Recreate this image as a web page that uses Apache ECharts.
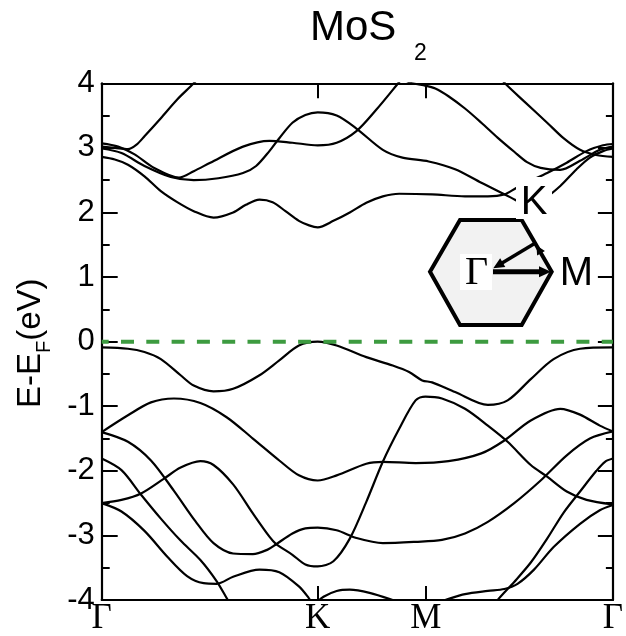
<!DOCTYPE html>
<html>
<head>
<meta charset="utf-8">
<script src="https://cdn.jsdelivr.net/npm/echarts@6/dist/echarts.min.js"></script>
<style>
  html, body { margin: 0; padding: 0; background: #fff; }
  #chart { width: 626px; height: 636px; }
</style>
</head>
<body>
<div id="chart"></div>
<script>
// High-symmetry points along the Γ–K–M–Γ path (path length in units of 2π/a)
const K_PT = 4 / 3;
const M_PT = 2;
const G_END = 4 / 3 + 2 / 3 + 2 / Math.sqrt(3);
const pathTicks = [0, K_PT, M_PT, G_END];
const pathLabels = ['Γ', 'K', 'M', 'Γ'];
const innerTicks = [K_PT, M_PT];

// Conduction bands: [k, E - E_F (eV)]
const cb1 = [[0,2.86],[0.081,2.82],[0.162,2.74],[0.264,2.56],[0.365,2.33],[0.466,2.16],[0.568,2.02],[0.690,1.92],[0.811,2.00],[0.890,2.12],[0.974,2.20],[1.055,2.16],[1.134,2.02],[1.217,1.87],[1.280,1.80],[1.333,1.77],[1.430,1.87],[1.531,2.00],[1.633,2.15],[1.735,2.25],[1.836,2.29],[2.039,2.28],[2.242,2.25],[2.383,2.25],[2.485,2.28],[2.558,2.38],[2.637,2.48],[2.749,2.61],[2.870,2.77],[2.992,2.95],[3.094,3.04],[3.155,3.06]];
const cb2 = [[0,2.99],[0.122,2.92],[0.264,2.72],[0.426,2.55],[0.568,2.50],[0.720,2.53],[0.872,2.61],[0.953,2.72],[1.035,2.95],[1.096,3.15],[1.177,3.39],[1.257,3.51],[1.333,3.55],[1.450,3.50],[1.572,3.30],[1.735,2.97],[1.856,2.85],[2.018,2.79],[2.181,2.67],[2.343,2.46],[2.526,2.23],[2.625,2.12],[2.739,2.23],[2.830,2.41],[2.931,2.67],[3.013,2.85],[3.094,2.95],[3.155,2.99]];
const cb3 = [[0,3.07],[0.101,3.02],[0.203,2.90],[0.324,2.69],[0.477,2.54],[0.568,2.64],[0.670,2.77],[0.872,3.02],[1.035,3.11],[1.177,3.08],[1.333,3.04],[1.450,3.08],[1.572,3.26],[1.694,3.59],[1.826,3.99],[1.877,4.15]];
const cb4 = [[0,3.02],[0.081,3.00],[0.162,2.98],[0.215,3.05],[0.264,3.18],[0.365,3.46],[0.466,3.75],[0.568,4.00],[0.629,4.17]];
const cb5 = [[1.846,4.08],[1.917,4.00],[1.986,3.97],[2.059,3.92],[2.140,3.80],[2.242,3.61],[2.343,3.39],[2.443,3.16],[2.546,2.94],[2.625,2.78],[2.709,2.69],[2.830,2.66],[2.952,2.80],[3.074,2.97],[3.155,3.02]];
const cb6 = [[2.455,4.10],[2.496,3.98],[2.607,3.72],[2.749,3.39],[2.850,3.15],[2.952,2.97],[3.051,2.89],[3.155,2.86]];

// Valence bands
const vb1 = [[0,-0.09],[0.162,-0.11],[0.264,-0.16],[0.365,-0.27],[0.487,-0.52],[0.568,-0.68],[0.690,-0.77],[0.811,-0.73],[0.974,-0.52],[1.096,-0.29],[1.217,-0.06],[1.333,0.00],[1.450,-0.06],[1.633,-0.24],[1.796,-0.37],[1.897,-0.47],[1.978,-0.60],[2.039,-0.63],[2.181,-0.78],[2.383,-0.98],[2.505,-0.91],[2.648,-0.58],[2.789,-0.27],[2.952,-0.11],[3.155,-0.09]];
const vb2 = [[0,-1.40],[0.162,-1.14],[0.304,-0.94],[0.446,-0.88],[0.609,-0.95],[0.771,-1.17],[0.933,-1.50],[1.096,-1.84],[1.217,-2.07],[1.333,-2.15],[1.450,-2.07],[1.633,-1.89],[1.735,-1.86],[1.937,-1.88],[2.140,-1.85],[2.343,-1.73],[2.485,-1.53],[2.648,-1.22],[2.830,-1.04],[2.952,-1.13],[3.074,-1.30],[3.155,-1.39]];
const vb3 = [[0,-1.40],[0.162,-1.55],[0.304,-1.84],[0.446,-2.31],[0.578,-2.78],[0.690,-3.12],[0.811,-3.28],[0.933,-3.29],[1.024,-3.22],[1.075,-3.14],[1.177,-2.97],[1.257,-2.89],[1.333,-2.88],[1.450,-2.92],[1.572,-3.04],[1.735,-3.12],[1.937,-3.10],[2.100,-3.07],[2.242,-2.97],[2.383,-2.79],[2.546,-2.50],[2.709,-2.15],[2.870,-1.76],[3.013,-1.50],[3.155,-1.39]];
const vb4 = [[0,-2.50],[0.122,-2.45],[0.243,-2.35],[0.385,-2.12],[0.487,-1.95],[0.609,-1.85],[0.690,-1.91],[0.811,-2.21],[0.933,-2.66],[1.035,-3.02],[1.075,-3.13],[1.177,-3.30],[1.257,-3.45],[1.333,-3.48],[1.430,-3.40],[1.531,-3.05],[1.633,-2.48],[1.735,-1.86],[1.836,-1.35],[1.937,-0.91],[1.998,-0.85],[2.100,-0.88],[2.242,-1.04],[2.383,-1.30],[2.505,-1.55],[2.648,-1.91],[2.749,-2.09],[2.870,-2.32],[2.992,-2.45],[3.155,-2.52]];
const vb5 = [[0,-1.81],[0.122,-1.99],[0.243,-2.37],[0.365,-2.74],[0.487,-3.08],[0.609,-3.38],[0.710,-3.71],[0.771,-3.97],[0.805,-4.12]];
const vb6 = [[0,-2.50],[0.122,-2.63],[0.264,-2.93],[0.405,-3.33],[0.527,-3.63],[0.629,-3.74],[0.710,-3.75],[0.811,-3.64],[0.974,-3.53],[1.096,-3.57],[1.217,-3.79],[1.278,-3.97],[1.298,-4.05]];
const vb7 = [[1.317,-4.06],[1.369,-3.95],[1.450,-3.86],[1.531,-3.84],[1.653,-3.89],[1.796,-4.00],[1.846,-4.05]];
const vb8 = [[2.059,-4.05],[2.120,-4.00],[2.242,-3.91],[2.383,-3.86],[2.485,-3.83],[2.566,-3.75],[2.668,-3.53],[2.789,-3.18],[2.952,-2.82],[3.074,-2.61],[3.155,-2.53]];
const vb9 = [[2.424,-4.10],[2.444,-4.00],[2.546,-3.72],[2.648,-3.42],[2.749,-3.05],[2.850,-2.65],[2.952,-2.32],[3.053,-2.00],[3.106,-1.86],[3.155,-1.81]];

// Fermi level reference
const fermiLevel = [[0, 0], [G_END, 0]];

const bands = [cb1, cb2, cb3, cb4, cb5, cb6, vb1, vb2, vb3, vb4, vb5, vb6, vb7, vb8, vb9];

const chart = echarts.init(document.getElementById('chart'), null, { renderer: 'canvas' });

const SANS = '"Liberation Sans", Arial, sans-serif';
const SERIF = '"Liberation Serif", "Times New Roman", serif';

const bandSeries = bands.map((pts) => ({
  type: 'line',
  data: pts,
  smooth: 0.3,
  showSymbol: false,
  clip: true,
  silent: true,
  lineStyle: { color: '#000', width: 2.2 },
  z: 2
}));

const fermiSeries = {
  type: 'line',
  data: fermiLevel,
  showSymbol: false,
  silent: true,
  lineStyle: { color: '#3d9b40', width: 4, type: [13, 12.3], dashOffset: 6 },
  z: 3
};

// Inset: hexagonal Brillouin zone with the Γ–M–K path
const hex = [[460,220],[521.7,220],[551.7,271.7],[521.7,325],[460,325],[430,271.7]];

function arrowHead(tip, dir, len, half) {
  const n = Math.hypot(dir[0], dir[1]);
  const ux = dir[0] / n, uy = dir[1] / n;
  const bx = tip[0] - len * ux, by = tip[1] - len * uy;
  return [tip, [bx - half * uy, by + half * ux], [bx + half * uy, by - half * ux]];
}

const insetZ = 50;
const graphics = [
  // title
  { type: 'text', x: 310, y: 28, z: insetZ,
    style: { text: 'MoS', font: '42px ' + SANS, fill: '#000', textAlign: 'left', textVerticalAlign: 'middle' } },
  { type: 'text', x: 414, y: 54, z: insetZ,
    style: { text: '2', font: '23px ' + SANS, fill: '#000', textAlign: 'left', textVerticalAlign: 'middle' } },
  // y-axis title, E-E_F(eV)
  { type: 'text', x: 31, y: 408, rotation: Math.PI / 2, z: insetZ,
    style: { text: 'E-E', font: '33px ' + SANS, fill: '#000', textAlign: 'left', textVerticalAlign: 'middle' } },
  { type: 'text', x: 44, y: 353, rotation: Math.PI / 2, z: insetZ,
    style: { text: 'F', font: '20px ' + SANS, fill: '#000', textAlign: 'left', textVerticalAlign: 'middle' } },
  { type: 'text', x: 31, y: 340.8, rotation: Math.PI / 2, z: insetZ,
    style: { text: '(eV)', font: '33px ' + SANS, fill: '#000', textAlign: 'left', textVerticalAlign: 'middle' } },
  // hexagon
  { type: 'polygon', z: insetZ, shape: { points: hex },
    style: { fill: '#f2f2f2', stroke: '#000', lineWidth: 4, lineJoin: 'miter' } },
  // Γ -> M
  { type: 'line', z: insetZ + 1, shape: { x1: 493, y1: 271.7, x2: 541, y2: 271.7 },
    style: { stroke: '#000', lineWidth: 5 } },
  { type: 'polygon', z: insetZ + 1, shape: { points: arrowHead([551, 271.7], [1, 0], 12, 5.5) },
    style: { fill: '#000' } },
  // K -> Γ
  { type: 'line', z: insetZ + 1, shape: { x1: 535, y1: 243.3, x2: 500, y2: 264.2 },
    style: { stroke: '#000', lineWidth: 3.5 } },
  { type: 'polygon', z: insetZ + 1, shape: { points: arrowHead([493.3, 268.3], [-41.7, 25], 11, 5) },
    style: { fill: '#000' } },
  // M -> K along the zone edge
  { type: 'polygon', z: insetZ + 1, shape: { points: arrowHead([536.5, 245.5], [-30, -51.7], 9, 4.5) },
    style: { fill: '#000' } },
  // point labels
  { type: 'rect', z: insetZ + 2, shape: { x: 460, y: 254, width: 32, height: 36 }, style: { fill: '#fff' } },
  { type: 'text', x: 476.5, y: 273, z: insetZ + 3,
    style: { text: 'Γ', font: '40px ' + SERIF, fill: '#000', textAlign: 'center', textVerticalAlign: 'middle' } },
  { type: 'rect', z: insetZ + 2, shape: { x: 516, y: 177, width: 36, height: 42 }, style: { fill: '#fff' } },
  { type: 'text', x: 534, y: 202.5, z: insetZ + 3,
    style: { text: 'K', font: '40px ' + SANS, fill: '#000', textAlign: 'center', textVerticalAlign: 'middle' } },
  { type: 'text', x: 576.5, y: 274, z: insetZ + 3,
    style: { text: 'M', font: '40px ' + SANS, fill: '#000', textAlign: 'center', textVerticalAlign: 'middle' } }
];

const frameLine = { onZero: false, lineStyle: { color: '#000', width: 2.2 } };

const option = {
  animation: false,
  backgroundColor: '#fff',
  grid: { left: 101.7, right: 6, top: 83.3, bottom: 34.3, containLabel: false },
  xAxis: [
    {
      type: 'value', position: 'bottom', min: 0, max: G_END,
      axisLine: frameLine,
      splitLine: { show: false },
      axisTick: { show: true, customValues: innerTicks, inside: true, length: 14, lineStyle: { color: '#000', width: 2 } },
      axisLabel: {
        show: true, customValues: pathTicks, margin: 1,
        fontFamily: SERIF, fontSize: 35, color: '#000',
        formatter: (v) => {
          let best = 0;
          pathTicks.forEach((t, i) => { if (Math.abs(t - v) < Math.abs(pathTicks[best] - v)) best = i; });
          return pathLabels[best];
        }
      }
    },
    {
      type: 'value', position: 'top', min: 0, max: G_END,
      axisLine: frameLine,
      splitLine: { show: false },
      axisTick: { show: true, customValues: innerTicks, inside: true, length: 15, lineStyle: { color: '#000', width: 2 } },
      axisLabel: { show: false }
    }
  ],
  yAxis: [
    {
      type: 'value', position: 'left', min: -4, max: 4, interval: 1,
      axisLine: frameLine,
      splitLine: { show: false },
      axisTick: { show: true, inside: true, length: 16, lineStyle: { color: '#000', width: 2 } },
      minorTick: { show: true, splitNumber: 2, length: 8, lineStyle: { color: '#000', width: 2 } },
      axisLabel: { margin: 7, fontFamily: SANS, fontSize: 31, color: '#000' }
    },
    {
      type: 'value', position: 'right', min: -4, max: 4, interval: 1,
      axisLine: frameLine,
      splitLine: { show: false },
      axisTick: { show: true, inside: true, length: 15, lineStyle: { color: '#000', width: 2 } },
      minorTick: { show: true, splitNumber: 2, length: 7, lineStyle: { color: '#000', width: 2 } },
      axisLabel: { show: false }
    }
  ],
  series: [...bandSeries, fermiSeries],
  graphic: graphics
};

chart.setOption(option);
</script>
</body>
</html>
